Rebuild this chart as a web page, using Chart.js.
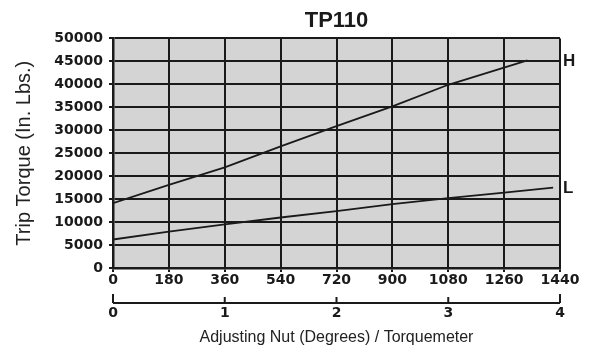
<!DOCTYPE html>
<html>
<head>
<meta charset="utf-8">
<title>TP110</title>
<script src="https://cdn.jsdelivr.net/npm/chart.js@4.4.0/dist/chart.umd.min.js"></script>
<style>
  html, body { margin: 0; padding: 0; background: #fff; }
  #wrap { width: 606px; height: 350px; }
</style>
</head>
<body>
<div id="wrap"><canvas id="tripChart" width="606" height="350"></canvas></div>
<script>
// chart text
const chartTitle = 'TP110';
const yTitle = 'Trip Torque (In. Lbs.)';
const xTitle = 'Adjusting Nut (Degrees) / Torquemeter';

// tick labels
const degreeTicks = [0, 180, 360, 540, 720, 900, 1080, 1260, 1440];
const torqueTicks = [0, 5000, 10000, 15000, 20000, 25000, 30000, 35000, 40000, 45000, 50000];
const turnTicks = [0, 1, 2, 3, 4];

// series
const seriesNames = ['H', 'L'];
const hDegrees = [0, 180, 360, 540, 720, 900, 1080, 1335];
const hTorque = [14100, 18100, 21900, 26500, 30900, 35200, 39900, 45200];
const lDegrees = [0, 180, 360, 540, 720, 900, 1080, 1260, 1418];
const lTorque = [6200, 7900, 9500, 11000, 12400, 13900, 15200, 16400, 17500];

const tickFont = { family: 'DejaVu Sans', size: 14, weight: 'bold' };
const ink = '#1a1a1a';

function toPoints(xs, ys) {
    return xs.map((x, i) => ({ x: x, y: ys[i] }));
}

// gray plot area
const plotBackground = {
    id: 'plotBackground',
    beforeDraw(chart) {
        const { ctx, chartArea: a } = chart;
        ctx.save();
        ctx.fillStyle = '#d4d4d4';
        ctx.fillRect(a.left, a.top, a.right - a.left, a.bottom - a.top);
        ctx.restore();
    }
};

// second scale line (torquemeter) and the H / L end labels
const extras = {
    id: 'extras',
    afterDraw(chart) {
        const { ctx, chartArea: a } = chart;
        const s2 = chart.scales.x2;
        const lineY = s2.top + 13;
        ctx.save();
        ctx.strokeStyle = ink;
        ctx.lineWidth = 2;
        ctx.beginPath();
        ctx.moveTo(s2.getPixelForValue(turnTicks[0]), lineY);
        ctx.lineTo(s2.getPixelForValue(turnTicks[turnTicks.length - 1]), lineY);
        turnTicks.forEach((t, i) => {
            const px = s2.getPixelForValue(t);
            const len = (i === 0 || i === turnTicks.length - 1) ? 9 : 6;
            ctx.moveTo(px, lineY);
            ctx.lineTo(px, lineY - len);
        });
        ctx.stroke();

        // H and L beside the last point of each line
        ctx.fillStyle = ink;
        ctx.font = 'bold 17px "Liberation Sans"';
        ctx.textAlign = 'left';
        ctx.textBaseline = 'middle';
        chart.data.datasets.forEach((ds, i) => {
            const last = ds.data[ds.data.length - 1];
            const py = chart.scales.y.getPixelForValue(last.y);
            ctx.fillText(seriesNames[i], a.right + 3, py + 1);
        });
        ctx.restore();
    }
};

new Chart(document.getElementById('tripChart'), {
    type: 'line',
    data: {
        datasets: [
            { label: seriesNames[0], data: toPoints(hDegrees, hTorque) },
            { label: seriesNames[1], data: toPoints(lDegrees, lTorque) }
        ]
    },
    options: {
        responsive: false,
        animation: false,
        devicePixelRatio: 1,
        layout: { padding: { left: 0, right: 46, top: 0, bottom: 0 } },
        elements: {
            line: { borderColor: ink, borderWidth: 1.8, tension: 0, fill: false },
            point: { radius: 0 }
        },
        plugins: {
            legend: { display: false },
            tooltip: { enabled: false },
            title: {
                display: true,
                fullSize: false,
                text: chartTitle,
                color: ink,
                font: { family: 'Liberation Sans', size: 22, weight: 'bold' },
                padding: { top: 8, bottom: 4 }
            }
        },
        scales: {
            x: {
                type: 'linear',
                position: 'bottom',
                weight: 1,
                min: 0,
                max: 1440,
                afterBuildTicks: s => { s.ticks = degreeTicks.map(v => ({ value: v })); },
                afterFit: s => { s.height = 22; },
                grid: { color: ink, lineWidth: 2, tickLength: 4 },
                border: { color: ink, width: 2.5 },
                ticks: { color: ink, font: tickFont, padding: 0, maxRotation: 0, autoSkip: false, callback: v => String(v) }
            },
            x2: {
                type: 'linear',
                position: 'bottom',
                weight: 2,
                min: 0,
                max: 4,
                afterBuildTicks: s => { s.ticks = turnTicks.map(v => ({ value: v })); },
                afterFit: s => { s.height = 60; },
                grid: { display: false, drawTicks: false, tickLength: 0 },
                border: { display: false },
                ticks: { color: ink, font: tickFont, padding: 15, maxRotation: 0, autoSkip: false, callback: v => String(v) },
                title: {
                    display: true,
                    text: xTitle,
                    color: '#222',
                    font: { family: 'Liberation Sans', size: 16 },
                    padding: { top: 0, bottom: 3 }
                }
            },
            y: {
                type: 'linear',
                min: 0,
                max: 50000,
                afterBuildTicks: s => { s.ticks = torqueTicks.map(v => ({ value: v })); },
                afterFit: s => { s.width = 113; },
                grid: { color: ink, lineWidth: 2, tickLength: 4 },
                border: { color: ink, width: 2.5 },
                ticks: { color: ink, font: tickFont, padding: 6, callback: v => String(v) },
                title: {
                    display: true,
                    text: yTitle,
                    color: '#222',
                    font: { family: 'Liberation Sans', size: 20 },
                    padding: { top: 12, bottom: 0 }
                }
            }
        }
    },
    plugins: [plotBackground, extras]
});
</script>
</body>
</html>
